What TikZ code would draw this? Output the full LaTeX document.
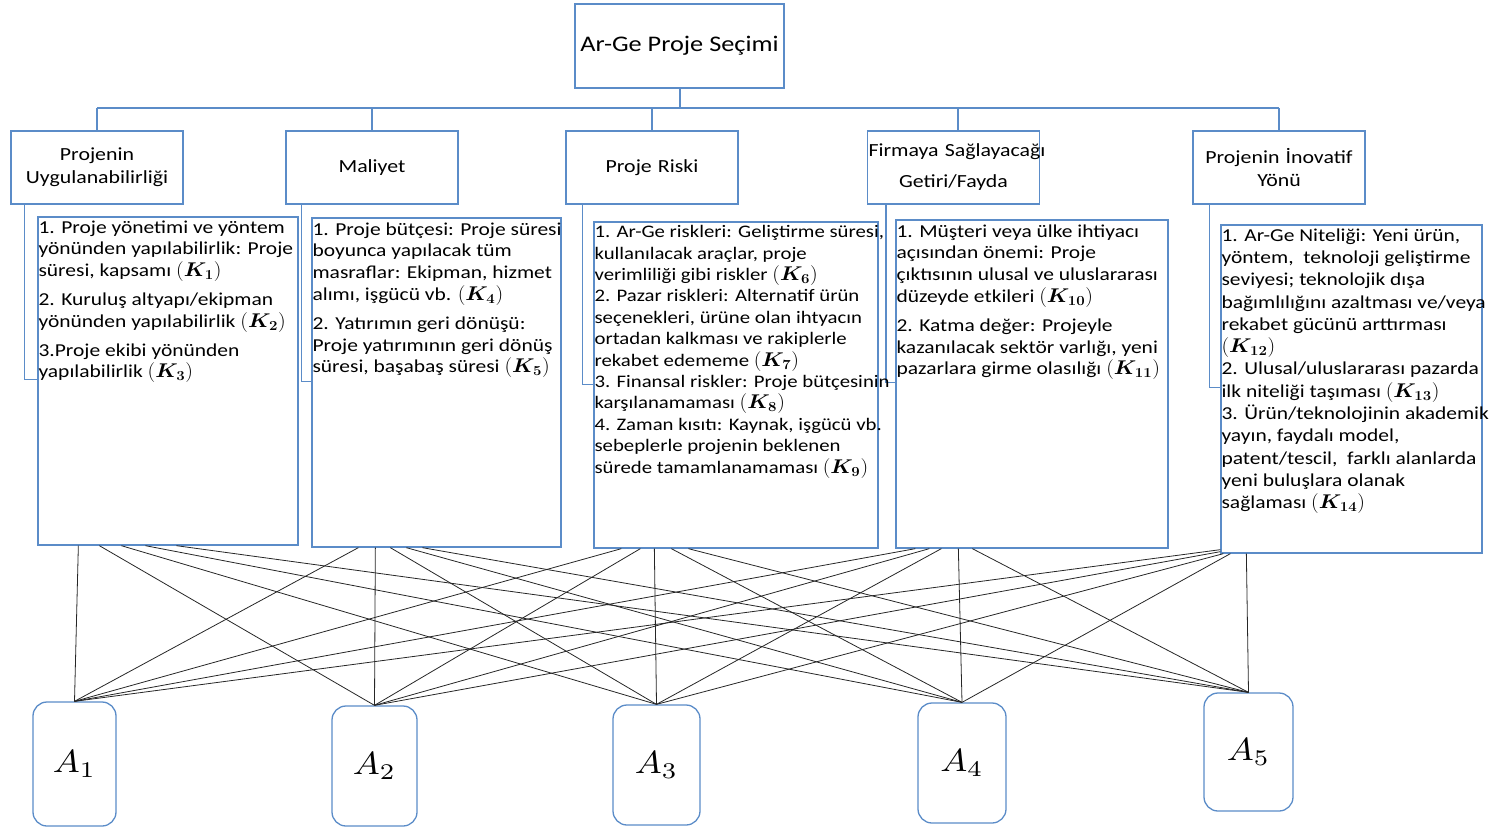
\documentclass[tikz,border=0pt]{standalone}
\usepackage{bm}
\usepackage{fontspec}
\setmainfont[FakeStretch=1.18]{Carlito}
\usetikzlibrary{calc}
\definecolor{boxblue}{RGB}{91,140,200}
\newcommand\kk[1]{\scalebox{1.25}[1.15]{$(\bm{K_{#1}})$}}
\newcommand\alab[1]{\scalebox{3.6}[3.2]{$A_{#1}$}}
\begin{document}
\begin{tikzpicture}[x=1pt,y=-1pt,
 box/.style={draw=boxblue,line width=1.3pt,inner sep=0pt},
 hbox/.style={box,minimum width=172pt,minimum height=73pt,text width=170pt,align=center,font=\fontsize{18.5}{23}\selectfont},
 dtext/.style={anchor=north west,inner sep=1pt,align=left,font=\fontsize{18.2}{21.8}\selectfont},
 abox/.style={draw=boxblue,line width=1.3pt,rounded corners=14pt,inner sep=0pt},
 conn/.style={draw=boxblue,line width=1.3pt},
 link/.style={draw=black!85,line width=0.8pt}]
\useasboundingbox (0,0) rectangle (1495,827);
% root
\node[box,minimum width=209pt,minimum height=84pt,font=\fontsize{22.3}{26}\selectfont] (R) at (679.5,46) {Ar-Ge Proje Seçimi};
% headers
\node[hbox] (H1) at (97,167.5) {Projenin\\Uygulanabilirliği};
\node[hbox] (H2) at (372,167.5) {Maliyet};
\node[hbox] (H3) at (652,167.5) {Proje Riski};
\node[hbox] (H4) at (953.5,167.5) {\mbox{Firmaya Sağlayacağı}\\[8pt]Getiri/Fayda};
\node[hbox] (H5) at (1279,167.5) {Projenin İnovatif\\Yönü};
% tree
\coordinate (bar) at (0,108);
\draw[conn,line width=2pt] (R.south) -- (R.south |- bar);
\draw[conn] (H1.north |- bar) -- (H5.north |- bar);
\foreach \h in {H1,H2,H3,H5} \draw[conn] (\h.north) -- (\h.north |- bar);
\draw[conn] ([xshift=4.5pt]H4.north) -- ([xshift=4.5pt]H4.north |- bar);
% detail boxes
\node[box,minimum width=260pt,minimum height=328pt] (D1) at (168,381) {};
\node[box,minimum width=249pt,minimum height=329pt] (D2) at (436.5,382.5) {};
\node[box,minimum width=284pt,minimum height=326pt] (D3) at (736,385) {};
\node[box,minimum width=272pt,minimum height=328pt] (D4) at (1032,384) {};
\node[box,minimum width=261pt,minimum height=328pt] (D5) at (1351.5,389) {};
% brackets
\draw[conn] ([xshift=14pt]H1.south west) |- ([yshift=-163pt]D1.north west);
\draw[conn] ([xshift=16pt]H2.south west) |- ([yshift=-164pt]D2.north west);
\draw[conn] ([xshift=17pt]H3.south west) |- ([yshift=-163pt]D3.north west);
\draw[conn] ([xshift=19pt]H4.south west) |- ([yshift=-163pt]D4.north west);
\draw[conn] ([xshift=17pt]H5.south west) |- ([yshift=-163pt]D5.north west);
% texts
\node[dtext] (T1) at ([yshift=-3pt]D1.north west) {1. Proje yönetimi ve yöntem\\yönünden yapılabilirlik: Proje\\süresi, kapsamı \kk{1}\\[7pt]2. Kuruluş altyapı/ekipman\\yönünden yapılabilirlik \kk{2}\\[7pt]3.Proje ekibi yönünden\\yapılabilirlik \kk{3}};
\node[dtext] (T2) at ([yshift=-4pt]D2.north west) {1. Proje bütçesi: Proje süresi\\boyunca yapılacak tüm\\masraflar: Ekipman, hizmet\\alımı, işgücü vb. \kk{4}\\[7pt]2. Yatırımın geri dönüşü:\\Proje yatırımının geri dönüş\\süresi, başabaş süresi \kk{5}};
\node[dtext,font=\fontsize{17.6}{21.4}\selectfont] (T3) at ([yshift=-3pt]D3.north west) {1. Ar-Ge riskleri: Geliştirme süresi,\\kullanılacak araçlar, proje\\verimliliği gibi riskler \kk{6}\\2. Pazar riskleri: Alternatif ürün\\seçenekleri, ürüne olan ihtyacın\\ortadan kalkması ve rakiplerle\\rekabet edememe \kk{7}\\3. Finansal riskler: Proje bütçesinin\\karşılanamaması \kk{8}\\4. Zaman kısıtı: Kaynak, işgücü vb.\\sebeplerle projenin beklenen\\sürede tamamlanamaması \kk{9}};
\node[dtext] (T4) at ([yshift=-4pt]D4.north west) {1. Müşteri veya ülke ihtiyacı\\açısından önemi: Proje\\çıktısının ulusal ve uluslararası\\düzeyde etkileri \kk{10}\\[7pt]2. Katma değer: Projeyle\\kazanılacak sektör varlığı, yeni\\pazarlara girme olasılığı \kk{11}};
\node[dtext,font=\fontsize{18.2}{22.3}\selectfont] (T5) at ([yshift=-3pt]D5.north west) {1. Ar-Ge Niteliği: Yeni ürün,\\yöntem,\ \ teknoloji geliştirme\\seviyesi; teknolojik dışa\\bağımlılığını azaltması ve/veya\\rekabet gücünü arttırması\\\kk{12}\\2. Ulusal/uluslararası pazarda\\ilk niteliği taşıması \kk{13}\\3. Ürün/teknolojinin akademik\\yayın, faydalı model,\\patent/tescil,\ \ farklı alanlarda\\yeni buluşlara olanak\\sağlaması \kk{14}};
% alternatives
\node[abox,minimum width=83pt,minimum height=124pt] (A1) at (74.5,764) {\alab{1}};
\node[abox,minimum width=85pt,minimum height=120pt] (A2) at (374.5,766) {\alab{2}};
\node[abox,minimum width=87pt,minimum height=120pt] (A3) at (656.5,765) {\alab{3}};
\node[abox,minimum width=88pt,minimum height=120pt] (A4) at (962,763) {\alab{4}};
\node[abox,minimum width=89pt,minimum height=118pt] (A5) at (1248.5,752) {\alab{5}};
% links
\foreach \i/\o in {1/41,2/62,3/84,4/108,5/139} \draw[link] ([xshift=\o pt]D1.south west) -- (A\i.north);
\foreach \i/\o in {1/47,2/64,3/79,4/95,5/111} \draw[link] ([xshift=\o pt]D2.south west) -- (A\i.north);
\foreach \i/\o in {1/28,2/47,3/61,4/78,5/95} \draw[link] ([xshift=\o pt]D3.south west) -- (A\i.north);
\foreach \i/\o in {1/20,2/34,3/46,4/63,5/77} \draw[link] ([xshift=\o pt]D4.south west) -- (A\i.north);
\draw[link] ([yshift=4pt]D5.south west) -- (A1.north);
\draw[link] ([yshift=2pt]D5.south west) -- (A2.north);
\draw[link] ([xshift=3pt]D5.south west) -- (A3.north);
\draw[link] ([xshift=10pt]D5.south west) -- (A4.north);
\draw[link] ([xshift=26pt]D5.south west) -- (A5.north);
\end{tikzpicture}
\end{document}
